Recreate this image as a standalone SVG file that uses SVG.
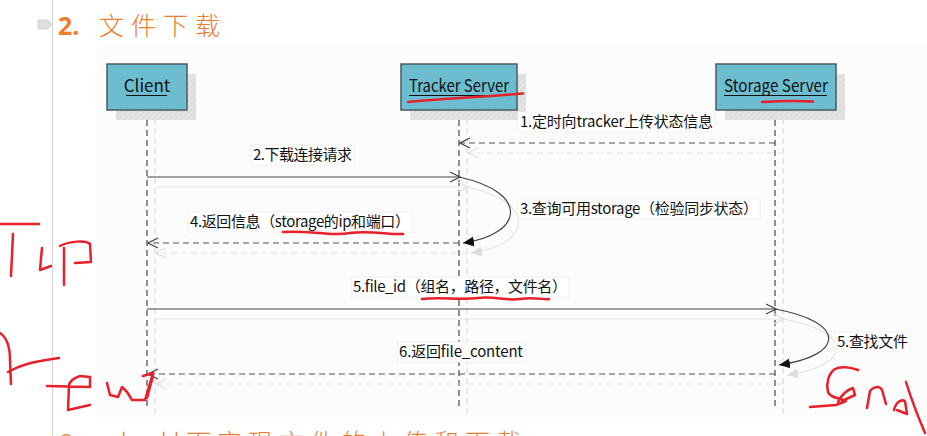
<svg xmlns="http://www.w3.org/2000/svg" width="927" height="436" viewBox="0 0 927 436">
<defs>
<style>
.t{font-family:"Noto Sans CJK SC","Noto Sans",sans-serif;font-size:15px;fill:#111}
.bt{font-family:"Noto Sans CJK SC","Noto Sans",sans-serif;font-size:17px;fill:#111}
.box{fill:#6CBDD0;stroke:#4a5a60;stroke-width:1.5}
.shd{fill:url(#hatch)}
.life{stroke:#6a6a6a;stroke-width:1.5;stroke-dasharray:6 4;fill:none}
.lifes{stroke:#e2e2e2;stroke-width:1.5;stroke-dasharray:6 4;fill:none}
.msg{stroke:#444;stroke-width:1.2;fill:none}
.msgd{stroke:#555;stroke-width:1.2;stroke-dasharray:6 4;fill:none}
.sh{stroke:#e4e4e4;stroke-width:1.2;fill:none}
.shdash{stroke:#e4e4e4;stroke-width:1.2;stroke-dasharray:6 4;fill:none}
.lbl{fill:#fff;stroke:#f0f0f0;stroke-width:1}
.red{stroke:#e8202a;stroke-width:2.5;fill:none;stroke-linecap:round;stroke-linejoin:round}
.ul{stroke:#111;stroke-width:1.2}
</style>
<pattern id="hatch" width="4" height="4" patternUnits="userSpaceOnUse" patternTransform="rotate(45)">
<rect width="4" height="4" fill="#e2e2e2"/>
<line x1="0" y1="0" x2="0" y2="4" stroke="#d6d6d6" stroke-width="1.5"/>
</pattern>
<marker id="open" markerWidth="12" markerHeight="12" refX="11" refY="6" orient="auto" markerUnits="userSpaceOnUse">
<path d="M1,1 L11,6 L1,11" fill="none" stroke="#444" stroke-width="1.2"/>
</marker>
<marker id="openl" markerWidth="12" markerHeight="12" refX="11" refY="6" orient="auto" markerUnits="userSpaceOnUse">
<path d="M1,1 L11,6 L1,11" fill="none" stroke="#e0e0e0" stroke-width="1.2"/>
</marker>
<marker id="fill" markerWidth="12" markerHeight="12" refX="11" refY="6" orient="auto" markerUnits="userSpaceOnUse">
<path d="M0,1 L11,6 L0,11 Z" fill="#111"/>
</marker>
<marker id="filll" markerWidth="12" markerHeight="12" refX="11" refY="6" orient="auto" markerUnits="userSpaceOnUse">
<path d="M0,1 L11,6 L0,11 Z" fill="#dcdcdc"/>
</marker>
</defs>
<rect width="927" height="436" fill="#fff"/>
<rect x="97" y="45" width="830" height="377" fill="#fcfcfc"/>
<line x1="52.5" y1="0" x2="52.5" y2="436" stroke="#d4d4d4" stroke-width="1"/>
<polygon points="38,20 48,20 52,24.5 48,29 38,29" fill="#dedede" stroke="#cfcfcf" stroke-width="0.8"/>
<g id="title">
<text x="58" y="35" font-family="'Open Sans','Noto Sans',sans-serif" font-weight="bold" font-size="25" fill="#ED7D31">2.</text>
<text x="99" y="35" font-family="'Noto Sans CJK SC',sans-serif" font-weight="300" font-size="25" letter-spacing="7" fill="#ED7D31">文件下载</text>
</g>
<text x="60" y="452" font-family="'Noto Sans CJK SC',sans-serif" font-weight="300" font-size="25" letter-spacing="6" fill="#ED7D31">3. shell下实现文件的上传和下载</text>

<g id="lifelines">
<line class="lifes" x1="155" y1="118" x2="155" y2="418"/>
<line class="lifes" x1="467" y1="118" x2="467" y2="418"/>
<line class="lifes" x1="783" y1="118" x2="783" y2="418"/>
<line class="life" x1="147" y1="110" x2="147" y2="408"/>
<line class="life" x1="459" y1="110" x2="459" y2="408"/>
<line class="life" x1="775" y1="110" x2="775" y2="408"/>
</g>

<g id="client">
<rect class="shd" x="116" y="74" width="80" height="46"/>
<rect class="box" x="107" y="64" width="80" height="46"/>
<text class="bt" x="147" y="92" text-anchor="middle">Client</text>
<line class="ul" x1="126" y1="95.5" x2="167" y2="95.5"/>
</g>
<g id="tracker">
<rect class="shd" x="410" y="74" width="116" height="46"/>
<rect class="box" x="401" y="64" width="116" height="46"/>
<text class="bt" x="459" y="92" text-anchor="middle" textLength="100" lengthAdjust="spacingAndGlyphs">Tracker Server</text>
<line class="ul" x1="409" y1="95.5" x2="508" y2="95.5"/>
</g>
<g id="storage">
<rect class="shd" x="725" y="74" width="120" height="46"/>
<rect class="box" x="716" y="64" width="120" height="46"/>
<text class="bt" x="776" y="92" text-anchor="middle" textLength="104" lengthAdjust="spacingAndGlyphs">Storage Server</text>
<line class="ul" x1="724" y1="95.5" x2="827" y2="95.5"/>
</g>

<g id="connectors">
<!-- shadows -->
<line class="shdash" x1="783" y1="153" x2="468" y2="153" marker-end="url(#openl)"/>
<line class="sh" x1="155" y1="187" x2="468" y2="187" marker-end="url(#openl)"/>
<path class="sh" d="M467,187 C540,203 530,245 471,253" marker-end="url(#filll)"/>
<line class="shdash" x1="467" y1="253" x2="156" y2="253" marker-end="url(#openl)"/>
<line class="sh" x1="155" y1="319" x2="784" y2="319" marker-end="url(#openl)"/>
<path class="sh" d="M783,319 C854,332 854,365 787,375" marker-end="url(#filll)"/>
<line class="shdash" x1="783" y1="384" x2="156" y2="384" marker-end="url(#openl)"/>
<!-- messages -->
<line class="msgd" x1="775" y1="143" x2="460" y2="143" marker-end="url(#open)"/>
<line class="msg" x1="147" y1="177" x2="460" y2="177" marker-end="url(#open)"/>
<path class="msg" d="M459,177 C532,193 522,235 463,243" marker-end="url(#fill)"/>
<line class="msgd" x1="459" y1="243" x2="148" y2="243" marker-end="url(#open)"/>
<line class="msg" x1="147" y1="309" x2="776" y2="309" marker-end="url(#open)"/>
<path class="msg" d="M775,309 C846,322 846,355 779,365" marker-end="url(#fill)"/>
<line class="msgd" x1="775" y1="374" x2="148" y2="374" marker-end="url(#open)"/>
</g>

<g id="labels">
<rect class="lbl" x="518" y="112" width="197" height="20"/>
<text class="t" x="520" y="127" textLength="193" lengthAdjust="spacing">1.定时向tracker上传状态信息</text>
<rect class="lbl" x="251" y="145" width="103" height="20"/>
<text class="t" x="253" y="160" textLength="99" lengthAdjust="spacing">2.下载连接请求</text>
<rect class="lbl" x="518" y="199" width="242" height="20"/>
<text class="t" x="520" y="214" textLength="238" lengthAdjust="spacing">3.查询可用storage（检验同步状态）</text>
<rect class="lbl" x="188" y="212" width="224" height="20"/>
<text class="t" x="190" y="227" textLength="220" lengthAdjust="spacing">4.返回信息（storage的ip和端口）</text>
<rect class="lbl" x="351" y="277" width="218" height="20"/>
<text class="t" x="353" y="292" textLength="214" lengthAdjust="spacing">5.file_id（组名，路径，文件名）</text>
<rect class="lbl" x="835" y="332" width="75" height="20"/>
<text class="t" x="837" y="347" textLength="71" lengthAdjust="spacing">5.查找文件</text>
<rect class="lbl" x="397" y="342" width="128" height="20"/>
<text class="t" x="399" y="357" textLength="124" lengthAdjust="spacing">6.返回file_content</text>
</g>

<g id="annotations">
<path class="red" d="M408,102 C440,99 480,97 523,93.5"/>
<path class="red" d="M762,102 C780,101 800,101 813,101.5"/>
<path class="red" d="M283,232 C320,230 330,237 350,233 C370,230 390,235 403,234"/>
<path class="red" d="M422,299 C440,297 460,300 478,298 C495,296 505,301 520,299 C535,297 545,300 549,299"/>
<!-- Tip -->
<path class="red" d="M0,224 L39,224"/>
<path class="red" d="M13,234 L11,276"/>
<path class="red" d="M42,248 L40,270 L51,266"/>
<path class="red" d="M64,248 L64,285"/>
<path class="red" d="M60,246 C70,241 86,240 90,244 L91,262 L75,263"/>
<!-- rew -->
<path class="red" d="M0,333 C6,337 10,345 10,360 L11,384"/>
<path class="red" d="M8,372 C18,366 30,362 59,358"/>
<path class="red" d="M47,386 L90,387 L90,377 L80,376 C74,378 70,381 69,385 L68,410 L90,405"/>
<path class="red" d="M107,383 L110,395 L118,397 L122,387 L127,392 L132,400 L145,400 L153,373 L143,376"/>
<path class="red" d="M153,376 L147,398"/>
<!-- Send -->
<path class="red" d="M858,370 C850,367 840,366 835,369 C828,374 826,384 828,392 C830,398 840,398 846,401 L836,405 L810,407"/>
<path class="red" d="M838,402 C842,394 847,390 853,388 L855,395 L842,401"/>
<path class="red" d="M867,408 L870,391 C874,386 880,386 882,390 L886,404"/>
<path class="red" d="M894,410 C896,402 901,399 905,401 L907,414 L897,410"/>
<path class="red" d="M906,382 C910,395 916,412 925,433"/>
</g>
</svg>
